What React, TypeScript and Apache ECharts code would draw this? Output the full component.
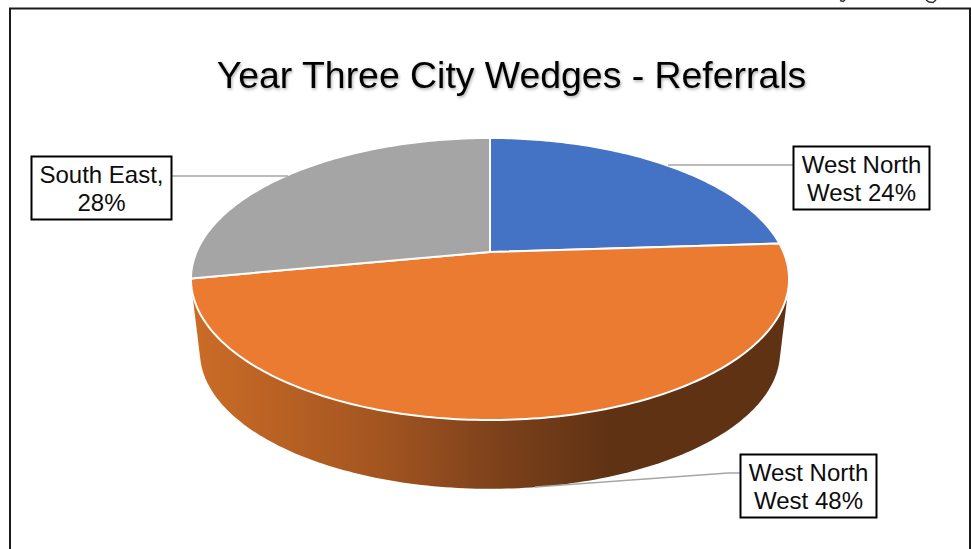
import React, { useEffect, useRef } from "react";
import * as echarts from "echarts";

const titleText = "Year Three City Wedges - Referrals";
const sliceNames = ["West North West", "West North West", "South East"];
const sliceValues = [24, 48, 28];
const sliceColors = ["#4472C4", "#EB7B30", "#A5A5A5"];
const labelPrefixes = ["West North\nWest ", "West North\nWest ", "South East,\n"];

const FONT = '"Liberation Sans", Arial, sans-serif';
const total = sliceValues.reduce((a, b) => a + b, 0);

// Perspective tilt of the pie disc: a unit circle is projected onto the page.
const CX = 490;
const APEX_Y = 252;
const RADIUS = 293.5;
const K = -0.1915;
const B = 87.6;
// The lower rim is the upper rim scaled and shifted down.
const RIM_CY = 279;
const BASE_CY = 352;
const BASE_SCALE = 0.97;

type Pt = [number, number];

function project(frac: number): Pt {
  const a = frac * Math.PI * 2;
  const u = Math.sin(a);
  const v = -Math.cos(a);
  const w = 1 + K * v;
  return [CX + (RADIUS * u) / w, (APEX_Y + B * v) / w];
}

function toBase(p: Pt): Pt {
  return [CX + BASE_SCALE * (p[0] - CX), BASE_CY + BASE_SCALE * (p[1] - RIM_CY)];
}

function arc(from: number, to: number): Pt[] {
  const steps = Math.max(2, Math.ceil((to - from) * 360));
  const pts: Pt[] = [];
  for (let i = 0; i <= steps; i++) pts.push(project(from + ((to - from) * i) / steps));
  return pts;
}

function convexHull(input: Pt[]): Pt[] {
  const pts = [...input].sort((p, q) => p[0] - q[0] || p[1] - q[1]);
  const cross = (o: Pt, p: Pt, q: Pt) =>
    (p[0] - o[0]) * (q[1] - o[1]) - (p[1] - o[1]) * (q[0] - o[0]);
  const half = (list: Pt[]) => {
    const out: Pt[] = [];
    for (const p of list) {
      while (out.length >= 2 && cross(out[out.length - 2], out[out.length - 1], p) <= 0) out.pop();
      out.push(p);
    }
    out.pop();
    return out;
  };
  return [...half(pts), ...half([...pts].reverse())];
}

function sliceRange(index: number): [number, number] {
  let start = 0;
  for (let i = 0; i < index; i++) start += sliceValues[i];
  return [start / total, (start + sliceValues[index]) / total];
}

function renderWall(params: any) {
  const [from, to] = sliceRange(params.dataIndex);
  // Only a wedge that wraps the front of the disc shows its side wall.
  if (!(from <= 0.5 && to >= 0.5)) return { type: "group", children: [] };
  const top = arc(from, to);
  const hull = convexHull([...top, ...top.map(toBase)]);
  return {
    type: "polygon",
    shape: { points: hull },
    style: {
      fill: new echarts.graphic.LinearGradient(
        193, 0, 790, 0,
        [
          { offset: 0, color: "#CB6C27" },
          { offset: 0.313, color: "#A35520" },
          { offset: 0.51, color: "#7D411B" },
          { offset: 0.7, color: "#5F3214" },
          { offset: 1, color: "#5F3214" },
        ],
        true
      ),
    },
  };
}

function renderFace(params: any) {
  const [from, to] = sliceRange(params.dataIndex);
  const apex: Pt = [CX, APEX_Y];
  return {
    type: "polygon",
    shape: { points: [apex, ...arc(from, to)] },
    style: { fill: sliceColors[params.dataIndex], stroke: "#FFFFFF", lineWidth: 2, lineJoin: "round" },
  };
}

function labelBox(x: number, y: number, w: number, h: number, text: string) {
  return [
    {
      type: "rect",
      z: 10,
      shape: { x: x + 0.5, y: y + 0.5, width: w, height: h },
      style: { fill: "#FFFFFF", stroke: "#000000", lineWidth: 2 },
    },
    {
      type: "text",
      z: 11,
      style: {
        x: x + w / 2 + 0.5,
        y: y + h / 2 + 1,
        text,
        fill: "#0D0D0D",
        font: `24px ${FONT}`,
        lineHeight: 28,
        align: "center",
        verticalAlign: "middle",
      },
    },
  ];
}

function leader(points: Pt[]) {
  return {
    type: "polyline",
    z: 9,
    shape: { points },
    style: { stroke: "#A6A6A6", lineWidth: 1.5, fill: "none" },
  };
}

// Small ink strokes left along the top edge of the page.
function inkStroke(points: Pt[]) {
  return {
    type: "polyline",
    shape: { points },
    style: { stroke: "#333333", lineWidth: 1.5, fill: "none" },
  };
}

export default function App() {
  const ref = useRef<HTMLDivElement>(null);

  useEffect(() => {
    document.body.style.margin = "0";
    document.body.style.overflow = "hidden";
    const chart = echarts.init(ref.current!, undefined, { renderer: "svg" });
    const data = sliceNames.map((name, i) => ({ name, value: sliceValues[i] }));
    chart.setOption({
      animation: false,
      backgroundColor: "#FFFFFF",
      title: {
        text: titleText,
        left: 506.5,
        top: 51.5,
        textAlign: "center",
        textStyle: {
          fontFamily: FONT,
          fontSize: 37.4,
          fontWeight: "normal",
          color: "#000000",
          textShadowColor: "rgba(0,0,0,0.35)",
          textShadowBlur: 3,
          textShadowOffsetX: 1,
          textShadowOffsetY: 1.5,
        },
      },
      series: [
        {
          type: "custom",
          coordinateSystem: "none",
          name: "wall",
          z: 1,
          silent: true,
          data,
          renderItem: renderWall,
        },
        {
          type: "custom",
          coordinateSystem: "none",
          name: "faces",
          z: 2,
          silent: true,
          data,
          renderItem: renderFace,
        },
      ],
      graphic: [
        {
          type: "rect",
          z: 0,
          shape: { x: 10, y: 8.5, width: 960, height: 560 },
          style: { fill: "none", stroke: "#1A1A1A", lineWidth: 2 },
        },
        inkStroke([[840, 0.5], [843, 1.5], [845, 0]]),
        inkStroke([[926, 0], [929, 2], [933, 2.5], [936, 0]]),
        leader([[668, 165], [793, 165]]),
        leader([[171, 176], [288, 176]]),
        leader([[535, 487], [728, 473], [740, 473]]),
        ...labelBox(793, 146, 136, 63, labelPrefixes[0] + sliceValues[0] + "%"),
        ...labelBox(740, 454, 136, 63, labelPrefixes[1] + sliceValues[1] + "%"),
        ...labelBox(31, 156, 140, 63, labelPrefixes[2] + sliceValues[2] + "%"),
      ],
    });
    return () => chart.dispose();
  }, []);

  return <div ref={ref} style={{ width: 971, height: 549 }} />;
}
